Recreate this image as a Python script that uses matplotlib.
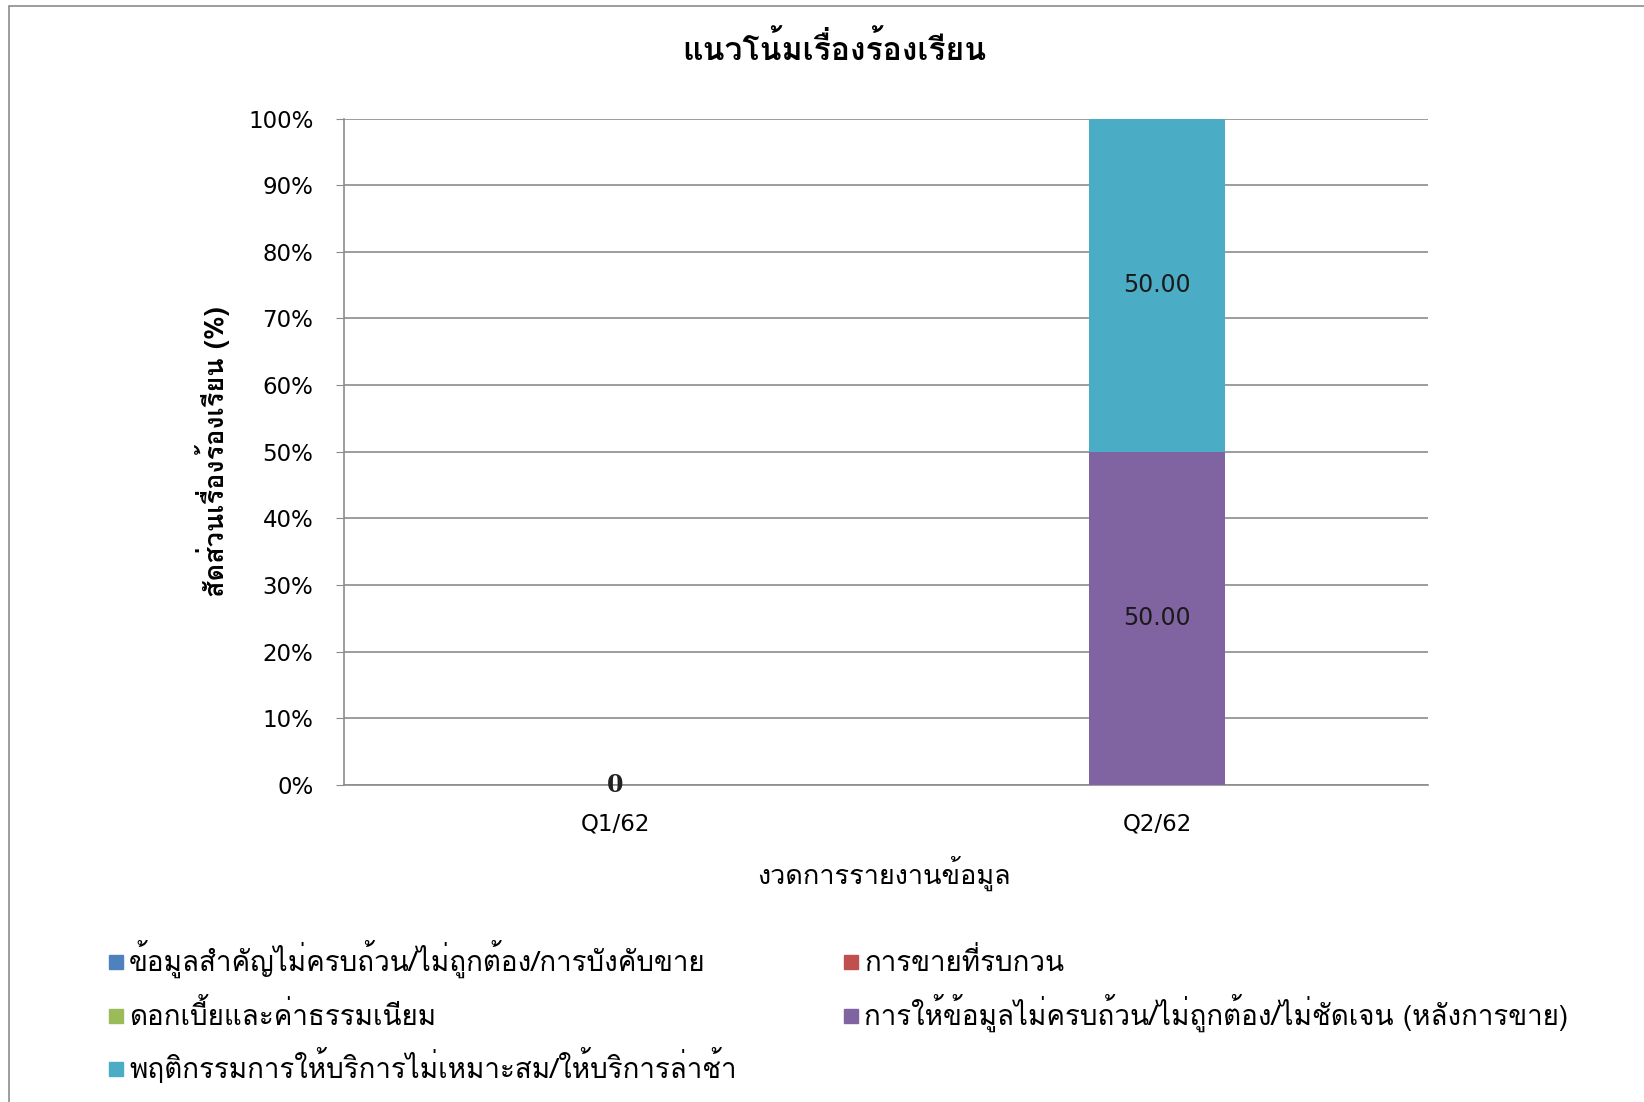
import numpy as np
import matplotlib
matplotlib.use("Agg")
import matplotlib.pyplot as plt
from matplotlib import font_manager
from matplotlib.ft2font import FT2Font
from matplotlib.patches import Rectangle

# data
periods = ["Q1/62", "Q2/62"]
series_names = [
    "ข้อมูลสำคัญไม่ครบถ้วน/ไม่ถูกต้อง/การบังคับขาย",
    "การขายที่รบกวน",
    "ดอกเบี้ยและค่าธรรมเนียม",
    "การให้ข้อมูลไม่ครบถ้วน/ไม่ถูกต้อง/ไม่ชัดเจน (หลังการขาย)",
    "พฤติกรรมการให้บริการไม่เหมาะสม/ให้บริการล่าช้า",
]
info_incomplete = [0, 0]
disturbing_sales = [0, 0]
interest_fees = [0, 0]
after_sales_info = [0, 50.0]
service_behavior = [0, 50.0]
colors = ["#4F81BD", "#C0504D", "#9BBB59", "#8064A2", "#4BACC6"]

title = "แนวโน้มเรื่องร้องเรียน"
ylabel = "สัดส่วนเรื่องร้องเรียน (%)"
xlabel = "งวดการรายงานข้อมูล"


# find an installed font that can draw Thai
def thai_fonts():
    found = []
    for f in font_manager.fontManager.ttflist:
        try:
            cmap = FT2Font(f.fname).get_charmap()
        except Exception:
            continue
        if 0x0E01 in cmap and f.name not in found:
            found.append(f.name)
    return found

fams = thai_fonts() + ["DejaVu Sans"]
plt.rcParams["font.family"] = fams

values = [info_incomplete, disturbing_sales, interest_fees, after_sales_info, service_behavior]
totals = np.sum(values, axis=0)

W, H = 1644, 1102
fig = plt.figure(figsize=(W / 100, H / 100), dpi=100)
ax = fig.add_axes([344 / W, 1 - 785 / H, 1084 / W, 666.5 / H])

x = np.arange(len(periods))
bottom = np.zeros(len(periods))
for name, vals, c in zip(series_names, values, colors):
    pct = np.array(vals) / np.where(totals == 0, 1, totals) * 100
    ax.bar(x, pct, 0.25, bottom=bottom, color=c, label=name, zorder=3)
    for i, v in enumerate(pct):
        if v > 0:
            ax.text(x[i], bottom[i] + v / 2, f"{vals[i]:.2f}", ha="center", va="center",
                    fontsize=17, family="DejaVu Sans", color="#1a1a1a", zorder=4)
    bottom += pct

for i, t in enumerate(totals):
    if t == 0:
        ax.text(x[i], 0, "0", ha="center", va="center", fontsize=17,
                family="DejaVu Serif", fontweight="bold", color="#222222", zorder=4)

ax.set_xlim(-0.5, 1.5)
ax.set_ylim(0, 100)
ax.set_yticks(np.arange(0, 101, 10))
ax.set_yticklabels([f"{v}%" for v in range(0, 101, 10)], family="DejaVu Sans", fontsize=16.5)
ax.set_xticks(x)
ax.set_xticklabels(periods, family="DejaVu Sans", fontsize=16.5)
ax.grid(axis="y", color="#8c8c8c", linewidth=1.2, zorder=0)
ax.tick_params(axis="y", length=6, color="#8c8c8c", pad=16)
ax.tick_params(axis="x", length=0, pad=20)
for s in ["top", "right"]:
    ax.spines[s].set_visible(False)
for s in ["left", "bottom"]:
    ax.spines[s].set_color("#8c8c8c")
    ax.spines[s].set_linewidth(1.2)

fig.text(834 / W, 1 - 49 / H, title, ha="center", va="center", fontsize=23, fontweight="bold")
ax.set_ylabel(ylabel, fontsize=19.5, fontweight="bold")
ax.yaxis.set_label_coords((230 - 344) / 1084, 0.5)
fig.text(884 / W, 1 - 873 / H, xlabel, ha="center", va="center", fontsize=19.5)

# legend drawn by hand so rows line up across the two columns
col_x = [109, 844]
row_y = [962, 1016, 1069]
slots = [(0, 0), (1, 0), (0, 1), (1, 1), (0, 2)]
sq = 14
for (ci, ri), name, c in zip(slots, series_names, colors):
    x0, yc = col_x[ci], row_y[ri]
    fig.patches.append(Rectangle((x0 / W, 1 - (yc + sq / 2) / H), sq / W, sq / H,
                                 transform=fig.transFigure, color=c))
    fig.text((x0 + sq + 6) / W, 1 - (yc + 9) / H, name, ha="left", va="baseline", fontsize=20)

fig.patches.append(Rectangle((9 / W, -0.1), 1.2, 1 - 6 / H + 0.1, transform=fig.transFigure,
                             fill=False, edgecolor="#8c8c8c", linewidth=1.2))

fig.savefig("out.png", dpi=100)
